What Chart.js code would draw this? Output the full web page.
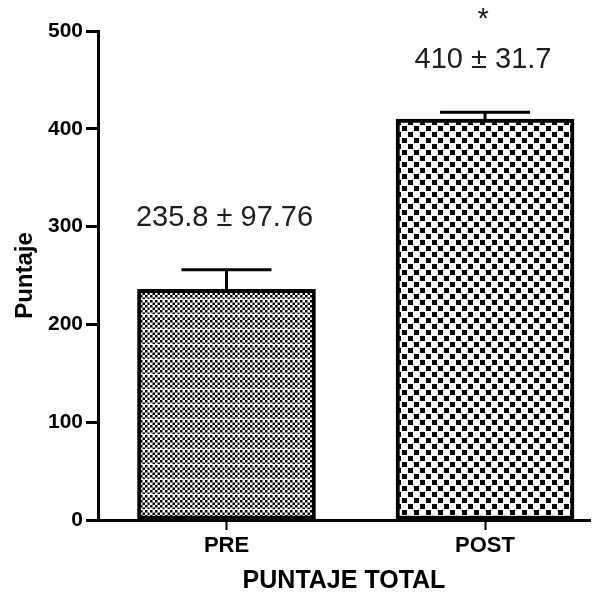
<!DOCTYPE html>
<html><head><meta charset="utf-8">
<script src="https://cdn.jsdelivr.net/npm/chart.js@4"></script>
<style>html,body{margin:0;padding:0;background:#fff}canvas{display:block}</style>
</head><body>
<canvas id="c" width="605" height="596"></canvas>
<script>
// ---- data ----
const categories = ['PRE', 'POST'];
const means = [235.8, 410];
const errUpper = [20, 7];
const statTexts = ['235.8 \u00B1 97.76', '410 \u00B1 31.7'];
const sigMarks = ['', '*'];
const yTicks = [0, 100, 200, 300, 400, 500];
const yTitle = 'Puntaje';
const xTitle = 'PUNTAJE TOTAL';

// ---- patterns ----
function patternPre() {
  const c = document.createElement('canvas'); c.width = 15; c.height = 15;
  const g = c.getContext('2d');
  g.fillStyle = '#fff'; g.fillRect(0, 0, 15, 15);
  g.fillStyle = '#000';
  for (let i = 0; i < 6; i++) for (let j = 0; j < 6; j++)
    if ((i + j) % 2 === 0) g.fillRect(i * 2.5, j * 2.5, 2.5, 2.5);
  g.fillStyle = 'rgba(255,255,255,0.85)'; g.fillRect(0, 14, 15, 1);
  g.fillStyle = 'rgba(255,255,255,0.4)'; g.fillRect(14, 0, 1, 15);
  return document.getElementById('c').getContext('2d').createPattern(c, 'repeat');
}
function patternPost() {
  const c = document.createElement('canvas'); c.width = 12; c.height = 12;
  const g = c.getContext('2d');
  g.fillStyle = '#fff'; g.fillRect(0, 0, 12, 12);
  g.fillStyle = '#000';
  g.fillRect(0, 0, 5, 5); g.fillRect(6, 6, 5, 5);
  return document.getElementById('c').getContext('2d').createPattern(c, 'repeat');
}

const FONT = "'Liberation Sans', Arial, sans-serif";

const errorBarPlugin = {
  id: 'errorBars',
  afterDatasetsDraw(chart) {
    const ctx = chart.ctx, xs = chart.scales.x, ys = chart.scales.y;
    ctx.save();
    ctx.strokeStyle = '#000';
    ctx.lineWidth = 3;
    ctx.lineCap = 'butt';
    means.forEach((m, i) => {
      const x = xs.getPixelForValue(i);
      const yM = ys.getPixelForValue(m);
      const yT = ys.getPixelForValue(m + errUpper[i]);
      ctx.beginPath();
      ctx.moveTo(x, yM); ctx.lineTo(x, yT);
      ctx.moveTo(x - 45, yT); ctx.lineTo(x + 45, yT);
      ctx.stroke();
      ctx.fillStyle = '#1e1e1e';
      ctx.font = '29px ' + FONT;
      ctx.textAlign = 'center';
      ctx.textBaseline = 'alphabetic';
      const base = yT - 44;
      ctx.fillText(statTexts[i], x - 2, base);
      if (sigMarks[i]) ctx.fillText(sigMarks[i], x - 2, base - 40);
    });
    ctx.restore();
  }
};

new Chart(document.getElementById('c'), {
  type: 'bar',
  data: {
    datasets: [{
      data: categories.map((c, i) => ({ x: i, y: means[i] })),
      backgroundColor: [patternPre(), patternPost()],
      borderColor: '#000',
      borderWidth: 4,
      borderSkipped: false,
      barThickness: 178
    }]
  },
  options: {
    responsive: false,
    animation: false,
    devicePixelRatio: 1,
    layout: { padding: { left: 0, right: 15, top: 31, bottom: 0 } },
    plugins: { legend: { display: false }, tooltip: { enabled: false } },
    scales: {
      x: {
        type: 'linear', min: -0.497, max: 1.406, offset: false,
        afterBuildTicks: s => { s.ticks = categories.map((c, i) => ({ value: i })); },
        afterFit: s => { s.height = 76; },
        ticks: {
          callback: v => categories[v],
          font: { family: FONT, weight: 'bold', size: 22 },
          color: '#000', padding: 3, autoSkip: false, maxRotation: 0
        },
        grid: { offset: false, drawOnChartArea: false, drawTicks: true, tickLength: 10, tickWidth: 2, color: '#000' },
        border: { display: true, width: 3, color: '#000' },
        title: {
          display: true, text: xTitle, color: '#000',
          font: { family: FONT, weight: 'bold', size: 25 },
          padding: { top: 1, bottom: 0 }
        }
      },
      y: {
        min: 0, max: 500,
        afterBuildTicks: s => { s.ticks = yTicks.map(v => ({ value: v })); },
        afterFit: s => { s.width = 98; },
        ticks: {
          font: { family: FONT, weight: 'bold', size: 21 },
          color: '#000', padding: 3
        },
        grid: { drawOnChartArea: false, drawTicks: true, tickLength: 12, tickWidth: 3, color: '#000' },
        border: { display: true, width: 3, color: '#000' },
        title: {
          display: true, text: yTitle, color: '#000',
          font: { family: FONT, weight: 'bold', size: 24 },
          padding: { top: 11, bottom: 0 }
        }
      }
    }
  },
  plugins: [errorBarPlugin]
});
</script>
</body></html>
